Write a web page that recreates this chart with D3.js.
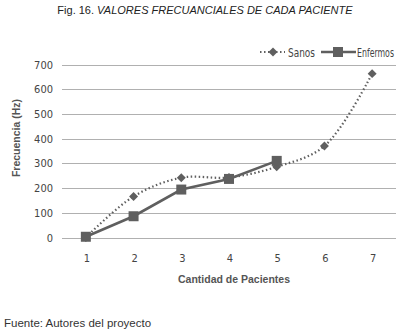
<!DOCTYPE html>
<html>
<head>
<meta charset="utf-8">
<script src="https://cdn.jsdelivr.net/npm/d3@7"></script>
<style>
  body { margin: 0; background: #fff; }
  svg { display: block; }
  .tick_lbl { font-family: "DejaVu Sans Condensed", "Liberation Sans", sans-serif; font-size: 11px; fill: #444; }
  .leg_lbl { font-family: "DejaVu Sans Condensed", "Liberation Sans", sans-serif; font-size: 12px; fill: #444; }
  .axis_title { font-family: "Liberation Sans", Arial, sans-serif; font-size: 10.5px; font-weight: bold; fill: #555; }
</style>
</head>
<body>
<svg id="chart" width="403" height="332"></svg>
<script>
let pacientes = [1, 2, 3, 4, 5, 6, 7],
  sanos = [0, 166, 242, 243, 286, 370, 663],
  enfermos = [3, 86, 194, 237, 310],
  y_ticks = [0, 100, 200, 300, 400, 500, 600, 700]

let width = 403,
  height = 332,
  margins = {left: 62, right: 7, top: 64.5, bottom: 94.5},
  gray = "#5f5f5f"

let svg = d3.select("#chart")

let x = d3.scaleBand()
  .domain(pacientes)
  .range([margins.left, width - margins.right])
let y = d3.scaleLinear()
  .domain([0, 700])
  .range([height - margins.bottom, margins.top])
let cx = d => x(d) + x.bandwidth() / 2

// grid
svg.append("g")
  .selectAll("line")
  .data(y_ticks).enter()
  .append("line")
  .attr("x1", margins.left)
  .attr("x2", width - margins.right)
  .attr("y1", d => Math.round(y(d)) + 0.5)
  .attr("y2", d => Math.round(y(d)) + 0.5)
  .attr("stroke", "#b0b0b0")
  .attr("stroke-width", 1)

svg.append("g")
  .selectAll("text")
  .data(y_ticks).enter()
  .append("text")
  .attr("class", "tick_lbl")
  .attr("x", 53)
  .attr("y", d => y(d) + 4)
  .attr("text-anchor", "end")
  .text(d => d)

svg.append("g")
  .selectAll("text")
  .data(pacientes).enter()
  .append("text")
  .attr("class", "tick_lbl")
  .attr("x", d => cx(d) + 1)
  .attr("y", 262)
  .attr("text-anchor", "middle")
  .text(d => d)

// series
let sanos_pts = sanos.map((v, i) => [cx(pacientes[i]), y(v)])
let enf_pts = enfermos.map((v, i) => [cx(pacientes[i]), y(v)])

svg.append("path")
  .attr("d", d3.line().curve(d3.curveCatmullRom)(sanos_pts))
  .attr("fill", "none")
  .attr("stroke", gray)
  .attr("stroke-width", 2.2)
  .attr("stroke-dasharray", "1.5,2.5")

svg.append("path")
  .attr("d", d3.line()(enf_pts))
  .attr("fill", "none")
  .attr("stroke", gray)
  .attr("stroke-width", 2.6)

// diamond = square turned 45 degrees
let diamond = d3.symbol().type(d3.symbolSquare).size(40)
let square = d3.symbol().type(d3.symbolSquare).size(100)

svg.append("g")
  .selectAll("path")
  .data(sanos_pts).enter()
  .append("path")
  .attr("d", diamond)
  .attr("transform", d => `translate(${d[0]},${d[1]})rotate(45)`)
  .attr("fill", gray)

svg.append("g")
  .selectAll("path")
  .data(enf_pts).enter()
  .append("path")
  .attr("d", square)
  .attr("transform", d => `translate(${d[0]},${d[1]})`)
  .attr("fill", gray)

// legend, labels squeezed horizontally to look like the narrow original font
function narrow_label(g, txt, x0, w) {
  let t = g.append("text").attr("class", "leg_lbl").text(txt)
  let k = Math.min(1, w / t.node().getComputedTextLength())
  t.attr("transform", `translate(${x0},4.5)scale(${k},1)`)
}

let leg = svg.append("g").attr("transform", "translate(0,52)")
leg.append("line")
  .attr("x1", 260).attr("x2", 285).attr("y1", 0).attr("y2", 0)
  .attr("stroke", gray).attr("stroke-width", 2.2).attr("stroke-dasharray", "1.5,2.5")
leg.append("path").attr("d", diamond).attr("transform", "translate(273,0)rotate(45)").attr("fill", gray)
narrow_label(leg, "Sanos", 288, 27)
leg.append("line")
  .attr("x1", 321).attr("x2", 356).attr("y1", 0).attr("y2", 0)
  .attr("stroke", gray).attr("stroke-width", 2.6)
leg.append("path").attr("d", square).attr("transform", "translate(338,0)").attr("fill", gray)
narrow_label(leg, "Enfermos", 357, 37)

// titles
svg.append("text")
  .attr("class", "axis_title")
  .attr("transform", "translate(20,138)rotate(-90)")
  .attr("text-anchor", "middle")
  .text("Frecuencia (Hz)")

svg.append("text")
  .attr("class", "axis_title")
  .attr("x", 234)
  .attr("y", 283)
  .attr("text-anchor", "middle")
  .text("Cantidad de Pacientes")

let title = svg.append("text")
  .attr("x", 205)
  .attr("y", 14)
  .attr("text-anchor", "middle")
  .style("font-family", "'Liberation Sans', Arial, sans-serif")
  .style("font-size", "11px")
  .attr("fill", "#222")
title.append("tspan").text("Fig. 16. ")
title.append("tspan").style("font-style", "italic").text("VALORES FRECUANCIALES DE CADA PACIENTE")

svg.append("text")
  .attr("x", 4)
  .attr("y", 327)
  .style("font-family", "'Liberation Sans', Arial, sans-serif")
  .style("font-size", "11.5px")
  .attr("fill", "#333")
  .text("Fuente: Autores del proyecto")
</script>
</body>
</html>
